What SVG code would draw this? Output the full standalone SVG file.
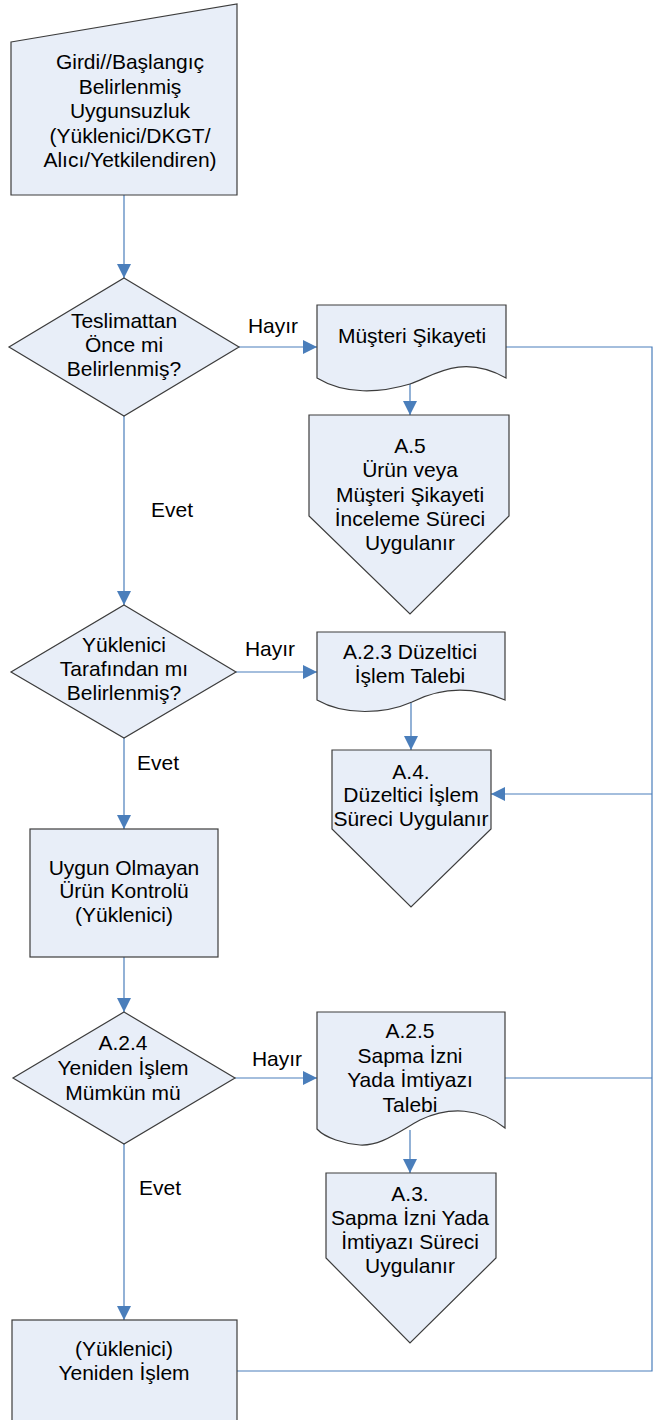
<svg xmlns="http://www.w3.org/2000/svg" width="654" height="1420" viewBox="0 0 654 1420">
<style>
.n{fill:#E8EEF8;stroke:#3C3C3C;stroke-width:1.2}
.c{fill:none;stroke:#4A7EBB;stroke-width:1.2}
.a{marker-end:url(#ah)}
text{font-family:"Liberation Sans",Arial,sans-serif;font-size:21px;fill:#000;text-anchor:middle}
</style>
<defs>
<marker id="ah" markerUnits="userSpaceOnUse" markerWidth="15" markerHeight="14" refX="14" refY="7" orient="auto" viewBox="0 0 15 14">
<path d="M0,0 L14,7 L0,14 z" fill="#4A7EBB"/>
</marker>
</defs>
<rect width="654" height="1420" fill="#fff"/>
<g id="connectors">
<path class="c a" d="M124,195 V278"/>
<path class="c a" d="M239,347 H317"/>
<path class="c a" d="M410,380 V415"/>
<path class="c a" d="M124,416 V605"/>
<path class="c a" d="M236,672 H317"/>
<path class="c a" d="M411,702 V750"/>
<path class="c a" d="M124,738 V829"/>
<path class="c a" d="M124,957 V1012"/>
<path class="c a" d="M235,1078 H317"/>
<path class="c a" d="M410,1130 V1173"/>
<path class="c a" d="M124,1144 V1320"/>
<path class="c" d="M506,347 H652 V1371 H237"/>
<path class="c" d="M505,1078 H652"/>
<path class="c a" d="M652,794 H491"/>
<text x="273" y="333">Hayır</text>
<text x="172" y="517">Evet</text>
<text x="270" y="656">Hayır</text>
<text x="158" y="770">Evet</text>
<text x="277" y="1066">Hayır</text>
<text x="160" y="1195">Evet</text>
</g>
<g id="start">
<polygon class="n" points="11,42 237,4 237,195 11,195"/>
<text x="130" y="69">Girdi//Başlangıç</text>
<text x="130" y="94">Belirlenmiş</text>
<text x="130" y="118">Uygunsuzluk</text>
<text x="130" y="143">(Yüklenici/DKGT/</text>
<text x="130" y="167">Alıcı/Yetkilendiren)</text>
</g>
<g id="d1">
<polygon class="n" points="124,278 239,347 124,416 9,347"/>
<text x="124" y="328">Teslimattan</text>
<text x="124" y="352">Önce mi</text>
<text x="124" y="376">Belirlenmiş?</text>
</g>
<g id="doc1">
<path class="n" d="M317,305 H506 V378 C460,352 430,378 410,384 C380,393 345,395 317,378 Z"/>
<text x="412" y="343">Müşteri Şikayeti</text>
</g>
<g id="p1">
<polygon class="n" points="309,415 509,415 509,516 410,614 309,516"/>
<text x="410" y="453">A.5</text>
<text x="410" y="477">Ürün veya</text>
<text x="410" y="502">Müşteri Şikayeti</text>
<text x="410" y="526">İnceleme Süreci</text>
<text x="410" y="550">Uygulanır</text>
</g>
<g id="d2">
<polygon class="n" points="124,605 236,672 124,738 11,672"/>
<text x="124" y="652">Yüklenici</text>
<text x="124" y="676">Tarafından mı</text>
<text x="124" y="700">Belirlenmiş?</text>
</g>
<g id="doc2">
<path class="n" d="M317,632 H505 V700 C470,685 440,688 412,702 C385,714 345,716 317,700 Z"/>
<text x="410" y="659">A.2.3 Düzeltici</text>
<text x="410" y="683">İşlem Talebi</text>
</g>
<g id="p2">
<polygon class="n" points="332,750 491,750 491,829 411,907 332,829"/>
<text x="411" y="779">A.4.</text>
<text x="411" y="802">Düzeltici İşlem</text>
<text x="411" y="826">Süreci Uygulanır</text>
</g>
<g id="box3">
<rect class="n" x="30" y="829" width="188" height="128"/>
<text x="124" y="875">Uygun Olmayan</text>
<text x="124" y="898">Ürün Kontrolü</text>
<text x="124" y="922">(Yüklenici)</text>
</g>
<g id="d3">
<polygon class="n" points="124,1012 235,1078 124,1144 13,1078"/>
<text x="123" y="1050">A.2.4</text>
<text x="123" y="1075">Yeniden İşlem</text>
<text x="123" y="1100">Mümkün mü</text>
</g>
<g id="doc3">
<path class="n" d="M317,1012 H505 V1128 C480,1108 450,1106 420,1120 C395,1134 380,1146 360,1145 C345,1144 325,1138 317,1129 Z"/>
<text x="410" y="1038">A.2.5</text>
<text x="410" y="1063">Sapma İzni</text>
<text x="410" y="1087">Yada İmtiyazı</text>
<text x="410" y="1112">Talebi</text>
</g>
<g id="p3">
<polygon class="n" points="326,1173 496,1173 496,1258 410,1343 326,1258"/>
<text x="410" y="1201">A.3.</text>
<text x="410" y="1225">Sapma İzni Yada</text>
<text x="410" y="1249">İmtiyazı Süreci</text>
<text x="410" y="1273">Uygulanır</text>
</g>
<g id="box4">
<rect class="n" x="12" y="1320" width="225" height="120"/>
<text x="124" y="1356">(Yüklenici)</text>
<text x="124" y="1380">Yeniden İşlem</text>
</g>
</svg>
